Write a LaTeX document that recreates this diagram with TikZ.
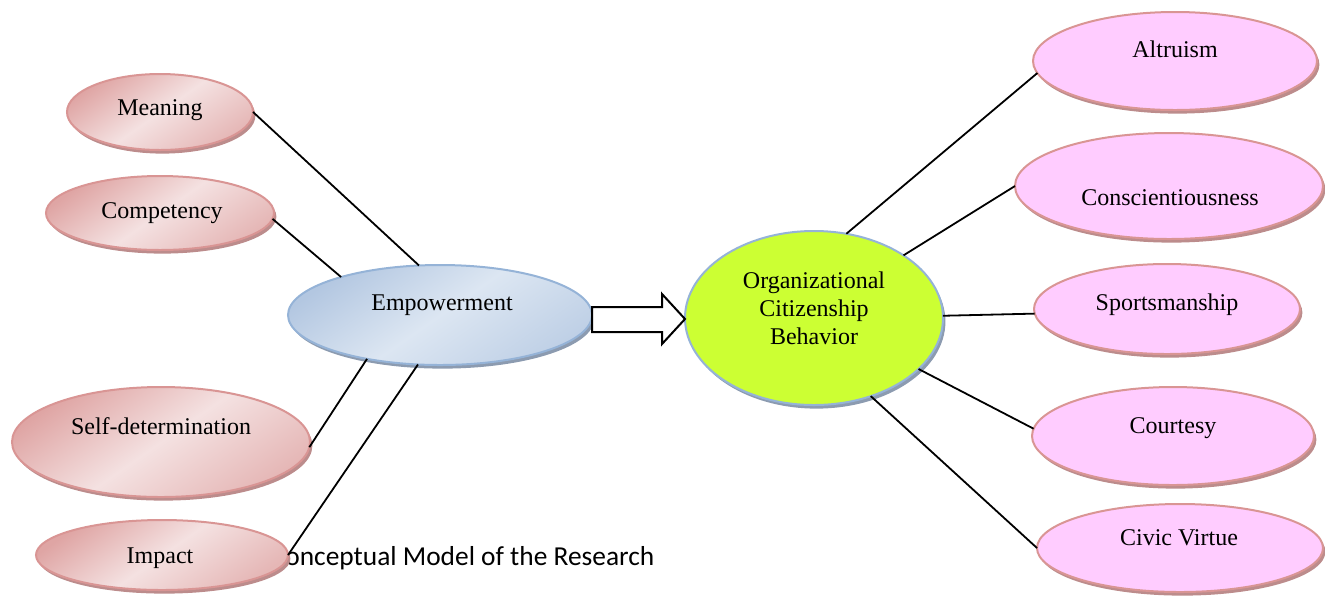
\documentclass[tikz,border=0pt]{standalone}
\usepackage{fontspec}
\setmainfont{Liberation Serif}
\newfontfamily\captionfont{Carlito}
\usetikzlibrary{shapes.geometric,shadows,calc}

\definecolor{roseedge}{HTML}{D99594}
\definecolor{rosedark}{HTML}{DFA5A4}
\definecolor{roselight}{HTML}{F4E1E1}
\definecolor{roseshadow}{HTML}{BC8C8C}
\definecolor{orchid}{HTML}{FFCCFF}
\definecolor{blueedge}{HTML}{95B3D7}
\definecolor{bluedark}{HTML}{B3C7E1}
\definecolor{bluelight}{HTML}{DCE6F2}
\definecolor{blueshadow}{HTML}{8C9BB0}
\definecolor{lime}{HTML}{CCFF33}

\tikzset{
  bubble/.style={ellipse, line width=1pt, inner sep=0pt, outer sep=0pt},
  softshadow/.style={drop shadow={shadow xshift=1.2pt, shadow yshift=-1.8pt, fill=#1, opacity=1}},
  roseshade/.style={bubble, draw=roseedge,
    top color=rosedark, bottom color=rosedark!70!roselight,
    middle color=roselight, shading angle=35, softshadow=roseshadow},
  orchidfill/.style={bubble, draw=roseedge, fill=orchid, softshadow=roseshadow},
  blueshade/.style={bubble, draw=blueedge,
    top color=bluedark, bottom color=bluedark!70!bluelight,
    middle color=bluelight, shading angle=35, softshadow=blueshadow},
  limefill/.style={bubble, draw=blueedge, fill=lime, softshadow=blueshadow},
  lbl/.style={font=\fontsize{12}{14}\selectfont, inner sep=0pt, anchor=base},
  link/.style={line width=0.9pt, black},
  blockarrow/.style={draw=black, line width=1pt, fill=white, line join=miter},
}

\begin{document}
\begin{tikzpicture}[x=0.5pt, y=-0.5pt]
\useasboundingbox (0,0) rectangle (1325,596);

% caption line, partly covered by the Impact bubble
\node[inner sep=0pt, anchor=base west, font=\captionfont\fontsize{13.7}{16}\selectfont]
  (cap) at (285,565) {onceptual Model of the Research};

% dimensions of empowerment
\node[roseshade, minimum width=186pt/2, minimum height=76pt/2] (meaning) at (160,112) {};
\node[roseshade, minimum width=228pt/2, minimum height=74pt/2] (competency) at (160,213) {};
\node[roseshade, minimum width=298pt/2, minimum height=110pt/2] (selfdet) at (161,442) {};
\node[roseshade, minimum width=252pt/2, minimum height=70pt/2] (impact) at (162,555) {};

\node[lbl] (meaning-t) at (160,115) {Meaning};
\node[lbl] (competency-t) at (162,218) {Competency};
\node[lbl] (selfdet-t) at (161,434) {Self-determination};
\node[lbl] (impact-t) at (160,563) {Impact};

% central constructs
\node[blueshade, minimum width=304pt/2, minimum height=100pt/2] (emp) at (440,315) {};
\node[lbl] (emp-t) at (442,310) {Empowerment};

\node[limefill, minimum width=258pt/2, minimum height=174pt/2] (ocb) at (814,318) {};
\node[lbl, anchor=center, align=center] (ocb-t) at (814,308)
  {Organizational\\Citizenship\\Behavior};

% dimensions of OCB
\node[orchidfill, minimum width=284pt/2, minimum height=98pt/2] (altruism) at (1175,61) {};
\node[orchidfill, minimum width=308pt/2, minimum height=106pt/2] (consc) at (1169,186) {};
\node[orchidfill, minimum width=266pt/2, minimum height=90pt/2] (sports) at (1167,309) {};
\node[orchidfill, minimum width=282pt/2, minimum height=98pt/2] (courtesy) at (1173,436) {};
\node[orchidfill, minimum width=286pt/2, minimum height=88pt/2] (civic) at (1180,548) {};

\node[lbl] (altruism-t) at (1175,57) {Altruism};
\node[lbl] (consc-t) at (1170,205) {Conscientiousness};
\node[lbl] (sports-t) at (1167,310) {Sportsmanship};
\node[lbl] (courtesy-t) at (1173,433) {Courtesy};
\node[lbl] (civic-t) at (1179,545) {Civic Virtue};

% connectors on the left
\draw[link] (meaning.east) -- (emp.113.7);
\draw[link] (competency.-3) -- (emp.159);
\draw[link] (selfdet.-2.7) -- (emp.-149);
\draw[link] (impact.east) -- (emp.-114);

% connectors on the right
\draw[link] (ocb.69) -- (altruism.-175.1);
\draw[link] (ocb.35.7) -- (consc.west);
\draw[link] (ocb.1.8) -- (sports.-178);
\draw[link] (ocb.-26.4) -- (courtesy.177.5);
\draw[link] (ocb.-54.7) -- (civic.west);

% block arrow from Empowerment to OCB
\draw[blockarrow]
  ($(emp.east)+(0,-8)$) -- ($(ocb.west)+(-23,-11)$) -- ($(ocb.west)+(-23,-24)$)
  -- ($(ocb.west)+(0,1)$) -- ($(ocb.west)+(-23,26)$) -- ($(ocb.west)+(-23,14)$)
  -- ($(emp.east)+(0,17)$) -- cycle;
\end{tikzpicture}
\end{document}
